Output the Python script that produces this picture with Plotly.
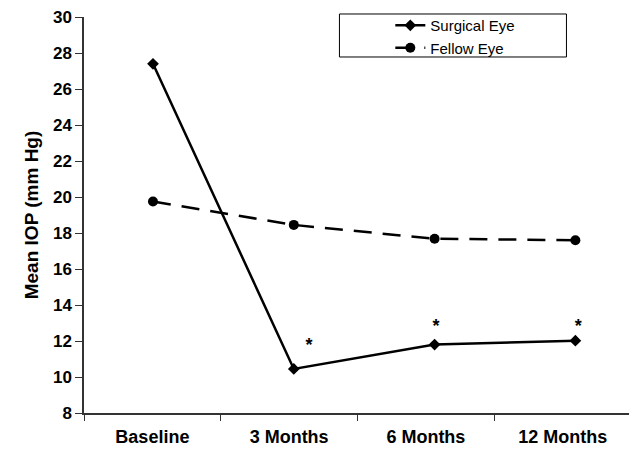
import plotly.graph_objects as go

categories = ["Baseline", "3 Months", "6 Months", "12 Months"]
time_index = [0, 1, 2, 3]
surgical_eye = [27.4, 10.45, 11.8, 12.02]
fellow_eye = [19.75, 18.45, 17.68, 17.6]
star_x = [1.108, 2.01, 3.02]
star_y = [11.7, 12.74, 12.77]
star_text = ["*", "*", "*"]
y_ticks = list(range(8, 31, 2))
y_tick_labels = [f"<b>{v}</b>" for v in y_ticks]
x_tick_labels = [f"<b>{c}</b>" for c in categories]

FONT = "Liberation Sans, Arial, sans-serif"

fig = go.Figure()

# invisible trace to hold the category axis
fig.add_trace(go.Scatter(x=categories, y=[None] * 4, xaxis="x", yaxis="y",
                         showlegend=False, hoverinfo="skip"))

fig.add_trace(go.Scatter(
    x=time_index, y=surgical_eye, name="Surgical Eye", xaxis="x2", yaxis="y",
    mode="lines+markers",
    line=dict(color="black", width=2.5),
    marker=dict(symbol="diamond", size=9, color="black"),
))
fig.add_trace(go.Scatter(
    x=time_index, y=fellow_eye, name="Fellow Eye", xaxis="x2", yaxis="y",
    mode="lines+markers",
    line=dict(color="black", width=2.5, dash="18px,11px"),
    marker=dict(symbol="circle", size=10, color="black"),
))
fig.add_trace(go.Scatter(
    x=star_x, y=star_y, text=[f"<b>{s}</b>" for s in star_text], mode="text",
    xaxis="x2", yaxis="y",
    textposition="middle center", showlegend=False,
    textfont=dict(family=FONT, size=18, color="black"),
))

fig.update_layout(
    width=629, height=446,
    margin=dict(l=76, r=6, t=9, b=41, autoexpand=False),
    paper_bgcolor="white", plot_bgcolor="white",
    showlegend=True,
    legend=dict(
        x=0.56, y=1.02, xanchor="left", yanchor="top",
        bgcolor="rgba(0,0,0,0)", borderwidth=0,
        font=dict(family=FONT, size=15, color="black"),
        tracegroupgap=0,
    ),
    xaxis=dict(
        type="category", range=[-0.5, 3.5],
        tickvals=categories, ticktext=x_tick_labels,
        showline=True, linecolor="#333", linewidth=1.5,
        ticks="outside", tickson="boundaries", ticklen=6, tickcolor="#333",
        showgrid=False, zeroline=False,
        tickfont=dict(family=FONT, size=18, color="black"),
        ticklabelstandoff=7,
        ticklabeloverflow="allow",
        automargin=False,
        fixedrange=True,
    ),
    xaxis2=dict(
        overlaying="x", range=[-0.49, 3.395], visible=False,
    ),
    yaxis=dict(
        range=[8, 30], tickvals=y_ticks, ticktext=y_tick_labels,
        showline=True, linecolor="#333", linewidth=1.5,
        ticks="outside", ticklen=7, tickcolor="#333",
        showgrid=False, zeroline=False,
        ticklabeloverflow="allow",
        automargin=False,
        tickfont=dict(family=FONT, size=17, color="black"),
        title=dict(text="<b>Mean IOP (mm Hg)</b>", standoff=9,
                   font=dict(family=FONT, size=19, color="black")),
    ),
    shapes=[dict(type="rect", xref="paper", yref="paper",
                 x0=0.467, x1=0.882, y0=0.899, y1=1.0076,
                 line=dict(color="black", width=1))],
)

fig.write_html("out.html")
